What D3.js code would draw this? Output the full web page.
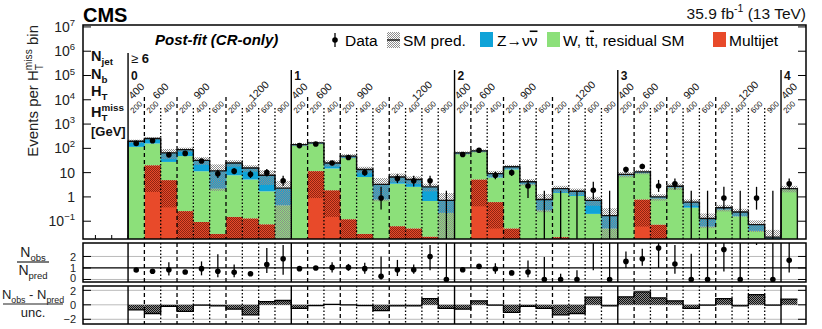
<!DOCTYPE html>
<html>
<head>
<meta charset="utf-8">
<script src="https://cdn.jsdelivr.net/npm/d3@7"></script>
<style>
  body { margin: 0; background: #fff; }
  svg { display: block; font-family: "Liberation Sans", Arial, sans-serif; }
</style>
</head>
<body>
<div id="chart"></div>
<script>
// ---- data ----
const nbLabels = ["0", "1", "2", "3", "4"];
const htLabels = ["400", "600", "900", "1200"];
const mhtLabels = [["200"], ["200", "400"], ["200", "400", "600"], ["200", "400", "600", "900"]];

// total SM prediction (stack top)
const total = [197, 255, 65, 89, 32, 11.8, 25, 15.6, 7.8, 2.3,
  143, 168, 25, 48, 13.4, 3.3, 6.6, 5.2, 2.6, 0.72,
  65, 79, 9.1, 17.4, 4.2, 0.78, 2.2, 1.7, 0.72, 0.17,
  8.5, 10.7, 1.0, 2.75, 0.61, 0.13, 0.36, 0.24, 0.072, 0.022,
  2.2];
// multijet + W/ttbar (top of green)
const wTop = [115, 158, 27.6, 48, 11.4, 2.2, 7.8, 5.2, 1.7, 0.45,
  130, 155, 14.8, 40, 6.6, 0.78, 3.5, 2.6, 0.68, 0.22,
  58, 72, 6.3, 13.5, 3.3, 0.28, 1.46, 1.1, 0.2, 0.05,
  7.5, 9.5, 0.85, 2.4, 0.36, 0.06, 0.3, 0.16, 0.04, 0.012,
  2.1];
// multijet
const multijet = [0.005, 20, 4.9, 0.26, 0.093, 0.03, 0.15, 0.13, 0.074, 0.01,
  0.005, 11.5, 1.87, 0.12, 0.03, 0.005, 0.062, 0.05, 0.023, 0.005,
  0.005, 5.2, 0.61, 0.05, 0.005, 0.005, 0.022, 0.005, 0.005, 0.005,
  0.005, 0.78, 0.072, 0.005, 0.005, 0.005, 0.005, 0.005, 0.005, 0.005,
  0.005];
// lower edge of the multijet uncertainty
const multijetLo = [0.001, 1.6, 0.37, 0.001, 0.001, 0.001, 0.001, 0.001, 0.001, 0.001,
  0.001, 0.9, 0.15, 0.001, 0.001, 0.001, 0.001, 0.001, 0.001, 0.001,
  0.001, 0.41, 0.05, 0.001, 0.001, 0.001, 0.001, 0.001, 0.001, 0.001,
  0.001, 0.06, 0.001, 0.001, 0.001, 0.001, 0.001, 0.001, 0.001, 0.001,
  0.001];
// relative uncertainty of the SM prediction
const uncRel = [0.15, 0.12, 0.45, 0.2, 0.35, 0.85, 0.3, 0.3, 0.6, 1.0,
  0.15, 0.12, 0.3, 0.2, 0.3, 0.8, 0.4, 0.35, 0.35, 1.0,
  0.15, 0.15, 0.3, 0.2, 0.3, 0.7, 0.3, 0.3, 0.4, 1.0,
  0.25, 0.2, 0.3, 0.3, 0.3, 0.6, 0.3, 0.35, 0.5, 1.0,
  0.3];
const obs = [160, 205, 54, 62, 30, 9, 11.5, 8.5, 10, 4.6,
  130, 150, 25, 42, 10, 0.9, 5.7, 4.6, 4.6, 0,
  56, 83, 7.8, 10, 2.8, 0, 0, 0, 1.87, 0,
  13.4, 18, 2.8, 3.5, 0, 0, 0.9, 0, 0.9, 0,
  3.5];
const obsLo = [145, 190, 47, 55, 25, 6, 8.5, 6, 7, 2.8,
  118, 137, 20, 36, 7.5, 0.3, 3.7, 2.7, 2.8, 0,
  49, 74, 5.4, 7.3, 0.9, 0, 0, 0, 0.8, 0,
  10, 14, 1.6, 2, 0, 0, 0.3, 0, 0.3, 0,
  2];
const obsHi = [175, 220, 62, 70, 36, 13, 15, 12, 14, 7.5,
  142, 163, 30, 49, 13.5, 2.6, 8.5, 7.4, 7.5, 1.8,
  64, 93, 11, 13.5, 5, 1.8, 1.8, 1.8, 4.2, 1.8,
  17.5, 23, 5, 5.8, 1.8, 1.8, 2.6, 1.8, 2.6, 1.8,
  5.8];
const ratio = [0.82, 0.72, 0.85, 0.65, 0.94, 0.72, 0.62, 0.5, 1.3, 1.8,
  0.94, 1.0, 1.05, 1.05, 0.94, 0.27, 0.85, 0.85, 2.0, 0,
  0.85, 1.14, 0.91, 0.57, 0.65, 0, 0, 0, 3.5, 0,
  1.57, 1.8, 2.74, 1.35, 0, 0, 2.6, 0, 12, 0,
  1.66];
const ratioLo = [0.75, 0.66, 0.35, 0.55, 0.36, 0.2, 0.2, 0.35, 0.57, 0.42,
  0.85, 0.9, 0.6, 0.75, 0.5, 0, 0.3, 0.5, 0.8, 0,
  0.75, 1.0, 0.5, 0.45, 0.2, 0, 0, 0, 0.8, 0,
  1.0, 1.2, 1.0, 0.5, 0, 0, 0.7, 0, 3.0, 0,
  0.6];
const ratioHi = [0.9, 0.8, 1.5, 0.75, 1.57, 2.2, 1.3, 0.7, 2.74, 3.0,
  1.05, 1.1, 1.5, 1.35, 1.45, 2.0, 1.7, 1.3, 3.0, 3.5,
  0.95, 1.3, 1.4, 0.7, 1.65, 1.96, 0.5, 0.8, 5, 5,
  2.44, 2.68, 3.5, 3.0, 2.24, 5, 3.5, 5, 20, 5,
  3.5];
const pull = [-0.7, -1.2, -0.2, -0.9, -0.05, -0.15, -0.6, -1.4, 0.45, 0.6,
  -0.5, -0.1, 0.05, 0.0, -0.1, -0.8, -0.15, -0.15, 0.85, -0.5,
  -0.6, 0.55, -0.05, -1.05, -0.2, -0.5, -1.4, -1.2, 1.05, -0.15,
  1.1, 1.8, 0.95, 0.55, -0.5, -0.05, 0.85, -0.15, 1.4, -0.05,
  0.8];

const mainTicks = [1e7, 1e6, 1e5, 1e4, 1e3, 1e2, 10, 1, 0.1];

// ---- layout ----
const W = 822, H = 329;
const left = 83, right = 806;
const main = {top: 25, bottom: 239};
const rpad = {top: 243, bottom: 282};
const ppad = {top: 286, bottom: 324};

const colGreen = "#8ce07a", colBlue = "#0fa3d8", colRed = "#e84a2a";

const svg = d3.select("#chart").append("svg")
  .attr("width", W).attr("height", H);

const defs = svg.append("defs");
function checker(id, fg, bg) {
  const p = defs.append("pattern").attr("id", id)
    .attr("width", 2).attr("height", 2).attr("patternUnits", "userSpaceOnUse");
  if (bg) p.append("rect").attr("width", 2).attr("height", 2).attr("fill", bg);
  p.append("rect").attr("x", 0).attr("y", 0).attr("width", 1).attr("height", 1).attr("fill", fg);
  p.append("rect").attr("x", 1).attr("y", 1).attr("width", 1).attr("height", 1).attr("fill", fg);
}
checker("unc", "#8c8c8c", null);
checker("mjunc", "#8f2412", null);
checker("pullh", "#111", "#8a8a8a");

function clip(id, pad) {
  defs.append("clipPath").attr("id", id).append("rect")
    .attr("x", left).attr("y", pad.top).attr("width", right - left).attr("height", pad.bottom - pad.top);
}
clip("cmain", main); clip("cratio", rpad); clip("cpull", ppad);

// bins
const bins = [];
nbLabels.forEach((nb, g) => {
  const nHT = g === 4 ? 1 : htLabels.length;
  for (let h = 0; h < nHT; h++) {
    mhtLabels[h].forEach((m, k) => {
      if (g === 4 && k > 0) return;
      const i = bins.length;
      bins.push({
        i, g, h, k, mht: m,
        T: total[i], G: wTop[i], M: multijet[i], L: multijetLo[i], u: uncRel[i],
        d: obs[i], dLo: obsLo[i], dHi: obsHi[i],
        r: ratio[i], rLo: ratioLo[i], rHi: ratioHi[i], p: pull[i]
      });
    });
  }
});

const x = d3.scaleLinear().domain([-2.76, 41.53]).range([left, right]);
const y = d3.scaleLog().domain([0.0185, 1.2e7]).range([main.bottom, main.top]).clamp(true);
const yr = d3.scaleLinear().domain([-0.22, 3.17]).range([rpad.bottom, rpad.top]);
const yp = d3.scaleLinear().domain([-2.65, 2.6]).range([ppad.bottom, ppad.top]);
const ylo = v => y(Math.max(v, 1e-4));

// rich text helper: parts = [text, mode] with mode "", "sub", "sup", "subback" (stacked under previous sup)
function rich(sel, parts, size) {
  let shift = 0, pending = 0, last = null;
  parts.forEach(([t, mode]) => {
    const small = mode !== "";
    const target = mode === "sup" ? -0.42 * size : (mode === "sub" || mode === "subback") ? 0.3 * size : 0;
    const ts = sel.append("tspan").text(t)
      .attr("font-size", small ? size * 0.68 : size)
      .attr("dy", target - shift);
    let dx = pending;
    if (mode === "subback" && last) dx -= last.node().getComputedTextLength();
    if (dx) ts.attr("dx", dx);
    pending = 0;
    if (mode === "subback" && last) {
      pending = Math.max(0, last.node().getComputedTextLength() - ts.node().getComputedTextLength());
    }
    shift = target;
    last = ts;
  });
  return sel;
}

// ---------------- main pad ----------------
svg.append("rect").attr("x", left).attr("y", main.top).attr("width", right - left)
  .attr("height", main.bottom - main.top).attr("fill", "#fff");

const gm = svg.append("g").attr("clip-path", "url(#cmain)");

// x ticks (hidden behind bars)
gm.selectAll(".xt").data(d3.range(-2, 42)).join("line")
  .attr("x1", d => x(d)).attr("x2", d => x(d))
  .attr("y1", main.bottom).attr("y2", main.bottom - 4)
  .attr("stroke", "#000").attr("stroke-width", 1);

const bw = x(1) - x(0);
function stackRect(cls, lo, hi, fill) {
  gm.selectAll("." + cls).data(bins).join("rect").attr("class", cls)
    .attr("x", d => x(d.i)).attr("width", bw + 0.3)
    .attr("y", d => ylo(hi(d))).attr("height", d => Math.max(0, ylo(lo(d)) - ylo(hi(d))))
    .attr("fill", fill);
}
stackRect("red", d => 1e-4, d => d.M, colRed);
stackRect("green", d => d.M, d => d.G, colGreen);
stackRect("blue", d => d.G, d => d.T, colBlue);
stackRect("mju", d => d.L, d => d.M, "url(#mjunc)");
stackRect("unc", d => d.T * Math.max(1 - d.u, 1e-4), d => d.T * (1 + d.u), "url(#unc)");

// stack outline
const stepPts = [[x(0), main.bottom]];
bins.forEach(d => { stepPts.push([x(d.i), ylo(d.T)]); stepPts.push([x(d.i + 1), ylo(d.T)]); });
stepPts.push([x(bins.length), main.bottom]);
gm.append("path").attr("d", d3.line()(stepPts)).attr("fill", "none")
  .attr("stroke", "#111").attr("stroke-width", 1.4);

// separator lines
function sepType(d) { return d.k === 0 && d.h === 0 ? "solid" : d.k === 0 ? "dash" : "dot"; }
const dashes = {solid: null, dash: "4,3", dot: "1.5,2"};
const sepTop = {solid: 70, dash: 97, dot: 108};
function seps(g, y1f, y2) {
  g.selectAll(".sep").data(bins).join("line")
    .attr("x1", d => x(d.i)).attr("x2", d => x(d.i))
    .attr("y1", y1f).attr("y2", y2)
    .attr("stroke", "#000").attr("stroke-width", d => sepType(d) === "solid" ? 1.4 : 1.3)
    .attr("stroke-dasharray", d => dashes[sepType(d)]);
}
seps(svg.append("g"), d => d.i === 0 ? 53 : sepTop[sepType(d)], main.bottom);

// data
const gd = gm.append("g");
gd.selectAll(".eb").data(bins).join("line")
  .attr("x1", d => x(d.i + 0.5)).attr("x2", d => x(d.i + 0.5))
  .attr("y1", d => ylo(d.dLo)).attr("y2", d => ylo(d.dHi))
  .attr("stroke", "#000").attr("stroke-width", 1.3);
gd.selectAll(".dp").data(bins.filter(d => d.d > 0)).join("circle")
  .attr("cx", d => x(d.i + 0.5)).attr("cy", d => y(d.d)).attr("r", 2.8).attr("fill", "#000");

// frame and y axis
svg.append("rect").attr("x", left).attr("y", main.top).attr("width", right - left)
  .attr("height", main.bottom - main.top).attr("fill", "none").attr("stroke", "#000").attr("stroke-width", 1.5);
mainTicks.forEach(v => {
  svg.append("line").attr("x1", left).attr("x2", left + 8).attr("y1", y(v)).attr("y2", y(v)).attr("stroke", "#000");
  svg.append("line").attr("x1", right - 8).attr("x2", right).attr("y1", y(v)).attr("y2", y(v)).attr("stroke", "#000");
  const t = svg.append("text").attr("x", 75).attr("y", y(v) + 5).attr("text-anchor", "end").attr("fill", "#222");
  const e = Math.round(Math.log10(v));
  if (e === 0) rich(t, [["1", ""]], 14);
  else if (e === 1) rich(t, [["10", ""]], 14);
  else rich(t, [["10", ""], [e < 0 ? "\u2212" + (-e) : String(e), "sup"]], 14);
});

// y title
const yt = svg.append("text").attr("transform", "translate(38,25) rotate(-90)")
  .attr("text-anchor", "end").attr("fill", "#222");
rich(yt, [["Events per H", ""], ["miss", "sup"], ["T", "subback"], [" bin", ""]], 15);

// left label column
function lab(txt, yy, size) {
  const t = svg.append("text").attr("x", 91).attr("y", yy).attr("font-weight", "bold").attr("fill", "#111");
  rich(t, txt, size);
}
lab([["N", ""], ["jet", "sub"]], 61, 14.5);
lab([["N", ""], ["b", "sub"]], 79, 14.5);
lab([["H", ""], ["T", "sub"]], 96, 14.5);
lab([["H", ""], ["miss", "sup"], ["T", "subback"]], 117, 14.5);
lab([["[GeV]", ""]], 136, 13);

// bin labels
const ge = svg.append("text").attr("x", x(0) + 3).attr("y", 63).attr("fill", "#111");
ge.append("tspan").attr("font-size", 13).text("\u2265 ");
ge.append("tspan").attr("font-size", 13).attr("font-weight", "bold").text("6");
nbLabels.forEach((nb, g) => {
  const first = bins.find(d => d.g === g);
  svg.append("text").attr("x", x(first.i) + 3).attr("y", 79.5).attr("font-size", 12)
    .attr("font-weight", "bold").attr("fill", "#111").text(nb);
});
const htGroups = d3.groups(bins, d => d.g + "_" + d.h).map(([key, arr]) => ({
  lab: htLabels[arr[0].h], c: (arr[0].i + arr[arr.length - 1].i + 1) / 2
}));
svg.selectAll(".htl").data(htGroups).join("text")
  .attr("transform", d => `translate(${x(d.c)},91) rotate(-45)`)
  .attr("text-anchor", "middle").attr("dy", "0.35em").attr("font-size", 10.5)
  .attr("fill", "#111").text(d => d.lab);
svg.selectAll(".mhl").data(bins).join("text")
  .attr("transform", d => `translate(${x(d.i + 0.5)},107) rotate(-45)`)
  .attr("text-anchor", "middle").attr("dy", "0.35em").attr("font-size", 8)
  .attr("fill", "#111").text(d => d.mht);

// ---------------- header & legend ----------------
svg.append("text").attr("x", 83).attr("y", 22).attr("font-size", 20).attr("font-weight", "bold").text("CMS");
const lumi = svg.append("text").attr("x", 806).attr("y", 19).attr("text-anchor", "end").attr("fill", "#111");
rich(lumi, [["35.9 fb", ""], ["-1", "sup"], [" (13 TeV)", ""]], 15.5);

svg.append("text").attr("x", 155).attr("y", 45).attr("font-size", 15).attr("font-weight", "bold")
  .attr("font-style", "italic").text("Post-fit (CR-only)");

const legY = 40;
svg.append("line").attr("x1", 335).attr("x2", 335).attr("y1", legY - 7).attr("y2", legY + 7)
  .attr("stroke", "#000").attr("stroke-width", 1.3);
svg.append("circle").attr("cx", 335).attr("cy", legY).attr("r", 2.8);
svg.append("text").attr("x", 345).attr("y", legY + 5.5).attr("font-size", 15.5).text("Data");
svg.append("rect").attr("x", 387).attr("y", legY - 8).attr("width", 13).attr("height", 16).attr("fill", "url(#unc)");
svg.append("line").attr("x1", 387).attr("x2", 400).attr("y1", legY).attr("y2", legY).attr("stroke", "#111").attr("stroke-width", 1.4);
svg.append("text").attr("x", 403).attr("y", legY + 5.5).attr("font-size", 15.5).text("SM pred.");

[[480, colBlue], [547, colGreen], [713, colRed]].forEach(([lx, c]) => {
  svg.append("rect").attr("x", lx).attr("y", legY - 8).attr("width", 13).attr("height", 15).attr("fill", c);
});
const zt = svg.append("text").attr("x", 497).attr("y", legY + 5.5).attr("font-size", 15.5);
zt.append("tspan").text("Z\u2192\u03bd");
zt.append("tspan").attr("text-decoration", "overline").text("\u03bd");
const wt = svg.append("text").attr("x", 563).attr("y", legY + 5.5).attr("font-size", 15.5);
wt.append("tspan").text("W, t");
wt.append("tspan").attr("text-decoration", "overline").text("t");
wt.append("tspan").text(", residual SM");
svg.append("text").attr("x", 729).attr("y", legY + 5.5).attr("font-size", 15.5).text("Multijet");

// ---------------- ratio pad ----------------
function padFrame(pad, scale, grid, dark) {
  svg.append("rect").attr("x", left).attr("y", pad.top).attr("width", right - left)
    .attr("height", pad.bottom - pad.top).attr("fill", "#fff");
  grid.forEach(v => {
    svg.append("line").attr("x1", left).attr("x2", right).attr("y1", scale(v)).attr("y2", scale(v))
      .attr("stroke", v === dark ? "#000" : "#bbb").attr("stroke-width", v === dark ? 1.2 : 1);
  });
}
function padAxes(pad, ticks, scale, fmt, nudge) {
  svg.append("rect").attr("x", left).attr("y", pad.top).attr("width", right - left)
    .attr("height", pad.bottom - pad.top).attr("fill", "none").attr("stroke", "#000").attr("stroke-width", 1.5);
  ticks.forEach((v, j) => {
    svg.append("line").attr("x1", left).attr("x2", left + 8).attr("y1", scale(v)).attr("y2", scale(v)).attr("stroke", "#000");
    svg.append("line").attr("x1", right - 8).attr("x2", right).attr("y1", scale(v)).attr("y2", scale(v)).attr("stroke", "#000");
    svg.append("text").attr("x", 76).attr("y", scale(v) + 4 + nudge[j]).attr("text-anchor", "end")
      .attr("font-size", 11).attr("fill", "#222").text(fmt(v));
  });
  seps(svg.append("g"), pad.top, pad.bottom);
}

padFrame(rpad, yr, [0, 1, 2], 1);
const gr = svg.append("g").attr("clip-path", "url(#cratio)");
gr.selectAll(".reb").data(bins).join("line")
  .attr("x1", d => x(d.i + 0.5)).attr("x2", d => x(d.i + 0.5))
  .attr("y1", d => yr(d.rLo)).attr("y2", d => yr(d.rHi))
  .attr("stroke", "#000").attr("stroke-width", 1.3);
gr.selectAll(".rdp").data(bins).join("circle")
  .attr("cx", d => x(d.i + 0.5)).attr("cy", d => yr(d.r)).attr("r", 2.8).attr("fill", "#000");
padAxes(rpad, [0, 1, 2], yr, String, [-1, 0, 0.5]);

// ---------------- pull pad ----------------
padFrame(ppad, yp, [-2, 0, 2], null);
const gp = svg.append("g").attr("clip-path", "url(#cpull)");
gp.selectAll(".pb").data(bins).join("rect")
  .attr("x", d => x(d.i)).attr("width", bw)
  .attr("y", d => Math.min(yp(0), yp(d.p))).attr("height", d => Math.abs(yp(d.p) - yp(0)))
  .attr("fill", "url(#pullh)");
const pPts = [];
bins.forEach(d => { pPts.push([x(d.i), yp(d.p)]); pPts.push([x(d.i + 1), yp(d.p)]); });
gp.append("path").attr("d", d3.line()(pPts)).attr("fill", "none").attr("stroke", "#000").attr("stroke-width", 1.3);
padAxes(ppad, [-2, 0, 2], yp, v => v < 0 ? "\u2212" + (-v) : String(v), [0, 0, 1]);

// pad titles
const r1 = svg.append("text").attr("x", 33).attr("y", 257).attr("text-anchor", "middle").attr("fill", "#222");
rich(r1, [["N", ""], ["obs", "sub"]], 14);
svg.append("line").attr("x1", 17).attr("x2", 49).attr("y1", 262).attr("y2", 262).attr("stroke", "#222").attr("stroke-width", 1.2);
const r2 = svg.append("text").attr("x", 33).attr("y", 275).attr("text-anchor", "middle").attr("fill", "#222");
rich(r2, [["N", ""], ["pred", "sub"]], 14);

const p1 = svg.append("text").attr("x", 33).attr("y", 299).attr("text-anchor", "middle").attr("fill", "#222");
rich(p1, [["N", ""], ["obs", "sub"], [" - N", ""], ["pred", "sub"]], 13);
svg.append("line").attr("x1", 3).attr("x2", 63).attr("y1", 304).attr("y2", 304).attr("stroke", "#222").attr("stroke-width", 1.2);
svg.append("text").attr("x", 33).attr("y", 317).attr("text-anchor", "middle").attr("font-size", 13)
  .attr("fill", "#222").text("unc.");
</script>
</body>
</html>
